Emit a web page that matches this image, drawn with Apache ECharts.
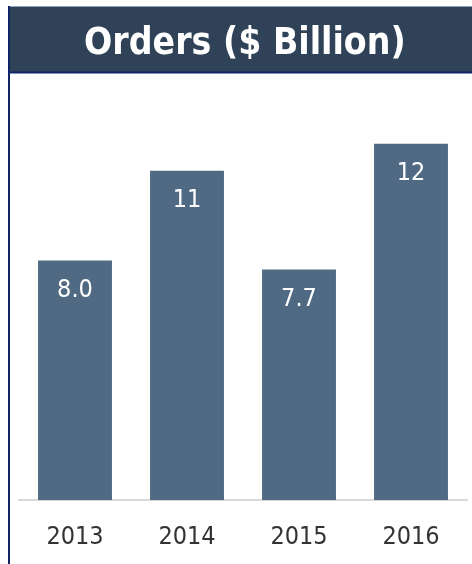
<!DOCTYPE html>
<html>
<head>
<meta charset="utf-8">
<script src="https://cdn.jsdelivr.net/npm/echarts@6/dist/echarts.min.js"></script>
<style>
html,body{margin:0;padding:0;background:#fff;}
#c{width:472px;height:564px;}
</style>
</head>
<body>
<div id="c"></div>
<script>
var titleText = 'Orders ($ Billion)';
var categories = ['2013', '2014', '2015', '2016'];
var orders = [8.0, 11.0, 7.7, 11.9];

var FONT = "'DejaVu Sans Condensed', 'DejaVu Sans', sans-serif";
var chart = echarts.init(document.getElementById('c'));
chart.setOption({
  animation: false,
  backgroundColor: '#ffffff',
  grid: { left: 19, right: 5, top: 81, bottom: 64 },
  xAxis: {
    type: 'category',
    data: categories,
    axisLine: { show: true, lineStyle: { color: '#D9D9D9', width: 2 } },
    axisTick: { show: false },
    axisLabel: { color: '#333333', fontSize: 25, fontFamily: FONT, margin: 25 }
  },
  yAxis: {
    type: 'value', min: 0, max: 14, show: false,
    splitLine: { show: false }
  },
  series: [{
    type: 'bar',
    data: orders,
    barWidth: '66%',
    itemStyle: { color: '#506A84' },
    label: {
      show: true,
      position: 'insideTop',
      distance: 17,
      color: '#ffffff',
      fontSize: 25,
      fontFamily: FONT,
      formatter: function (p) { return p.value < 10 ? p.value.toFixed(1) : p.value.toFixed(0); }
    }
  }],
  graphic: [
    { type: 'rect', shape: { x: 9, y: 7, width: 463, height: 65 }, style: { fill: '#2F4257' }, z: 10 },
    { type: 'line', shape: { x1: 9, y1: 72.5, x2: 472, y2: 72.5 }, style: { stroke: '#0F2466', lineWidth: 2 }, z: 11 },
    { type: 'line', shape: { x1: 9, y1: 6.5, x2: 472, y2: 6.5 }, style: { stroke: '#8FA0C0', lineWidth: 1 }, z: 11 },
    { type: 'line', shape: { x1: 9, y1: 6, x2: 9, y2: 564 }, style: { stroke: '#0F2466', lineWidth: 2 }, z: 11 },
    { type: 'text', left: 84, top: 26, z: 12,
      style: { text: titleText, fill: '#ffffff', font: 'bold 37px ' + FONT } }
  ]
});
</script>
</body>
</html>
